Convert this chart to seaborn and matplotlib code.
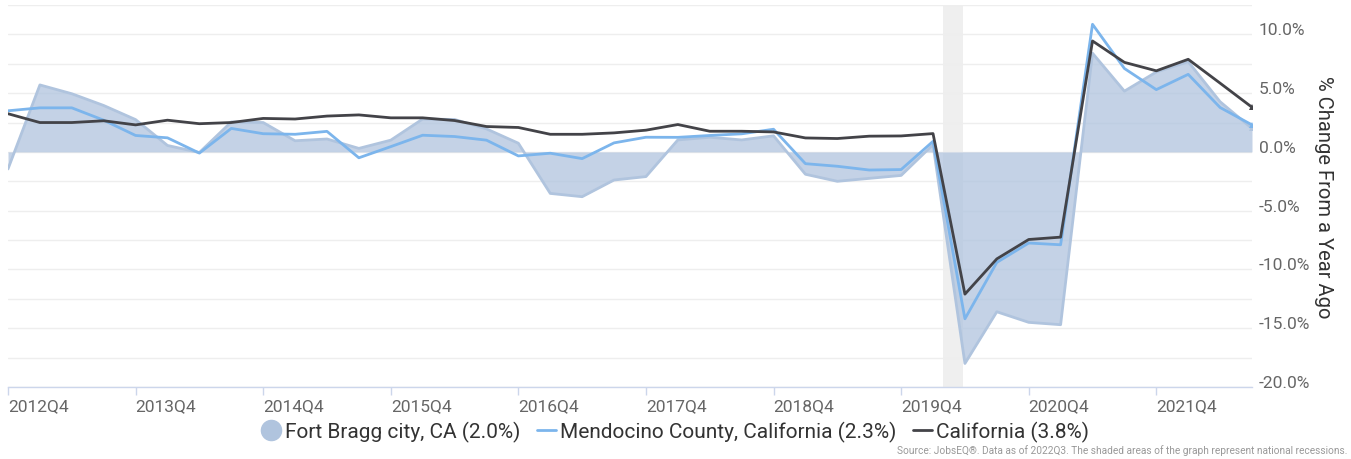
import matplotlib
matplotlib.use("Agg")
import matplotlib.pyplot as plt
import matplotlib.transforms as mtransforms
from matplotlib.lines import Line2D
import seaborn as sns
import pandas as pd
import numpy as np

quarters = ["2012Q4",
            "2013Q1", "2013Q2", "2013Q3", "2013Q4",
            "2014Q1", "2014Q2", "2014Q3", "2014Q4",
            "2015Q1", "2015Q2", "2015Q3", "2015Q4",
            "2016Q1", "2016Q2", "2016Q3", "2016Q4",
            "2017Q1", "2017Q2", "2017Q3", "2017Q4",
            "2018Q1", "2018Q2", "2018Q3", "2018Q4",
            "2019Q1", "2019Q2", "2019Q3", "2019Q4",
            "2020Q1", "2020Q2", "2020Q3", "2020Q4",
            "2021Q1", "2021Q2", "2021Q3", "2021Q4",
            "2022Q1", "2022Q2", "2022Q3"]
tick_labels = ["2012Q4", "2013Q4", "2014Q4", "2015Q4", "2016Q4",
               "2017Q4", "2018Q4", "2019Q4", "2020Q4", "2021Q4"]

fort_bragg = [-1.45, 5.7, 4.95, 3.95, 2.75, 0.55, -0.05, 2.55, 2.5, 0.95,
              1.1, 0.3, 1.0, 2.8, 2.76, 1.96, 0.74, -3.53, -3.81, -2.39,
              -2.1, 1.02, 1.25, 1.02, 1.37, -1.9, -2.5, -2.25, -2.0, 0.62,
              -18.0, -13.6, -14.5, -14.7, 8.4, 5.17, 6.8, 7.68, 4.27, 2.0]
mendocino = [3.5, 3.75, 3.75, 2.7, 1.4, 1.2, -0.1, 2.0, 1.55, 1.5,
             1.75, -0.5, 0.45, 1.42, 1.31, 1.0, -0.34, -0.11, -0.57, 0.77,
             1.25, 1.24, 1.4, 1.54, 1.93, -1.0, -1.22, -1.54, -1.5, 0.9,
             -14.2, -9.4, -7.75, -7.9, 10.86, 7.1, 5.3, 6.6, 3.78, 2.3]
california = [3.25, 2.5, 2.5, 2.65, 2.3, 2.7, 2.4, 2.5, 2.85, 2.8,
              3.05, 3.15, 2.9, 2.9, 2.67, 2.16, 2.08, 1.5, 1.5, 1.62,
              1.85, 2.33, 1.76, 1.76, 1.7, 1.19, 1.14, 1.34, 1.36, 1.56,
              -12.1, -9.1, -7.45, -7.25, 9.44, 7.62, 6.9, 7.88, 5.85, 3.8]

# recession: roughly Feb 2020 - Apr 2020 in quarter-index units
recession = ("2020Q1", "2020Q2")

df = pd.DataFrame({"quarter": quarters, "Fort Bragg": fort_bragg,
                   "Mendocino": mendocino, "California": california})
df["pos"] = np.arange(len(df))

sns.set_theme(style="white")
plt.rcParams["font.family"] = ["Roboto", "DejaVu Sans"]

fig = plt.figure(figsize=(13.51, 4.60), dpi=100)
ax = fig.add_axes([8/1351, 1-388/460, 1244/1351, 382/460])

c_fill = "#b0c4de"
c_blue = "#7cb5ec"
c_dark = "#434348"

r0 = quarters.index(recession[0]) + 0.3
r1 = quarters.index(recession[1]) - 0.05
ax.axvspan(r0, r1, color="#efefef", zorder=0, lw=0)

ax.fill_between(df["pos"], df["Fort Bragg"], 0, color=c_fill, alpha=0.75,
                lw=0, zorder=1)
sns.lineplot(data=df, x="pos", y="Fort Bragg", ax=ax, color=c_fill, lw=2,
             zorder=2, marker="^", markevery=[len(df)-1], markersize=5,
             markeredgewidth=0)
sns.lineplot(data=df, x="pos", y="Mendocino", ax=ax, color=c_blue, lw=2,
             zorder=3, marker="^", markevery=[len(df)-1], markersize=5,
             markeredgewidth=0)
sns.lineplot(data=df, x="pos", y="California", ax=ax, color=c_dark, lw=2,
             zorder=4, marker="^", markevery=[len(df)-1], markersize=5,
             markeredgewidth=0)

ax.set_xlim(0, len(df)-1)
ax.set_ylim(-20, 12.5)

# grid
ax.set_yticks(np.arange(-20, 12.6, 2.5), minor=True)
ax.set_yticks(np.arange(-20, 10.1, 5))
ax.grid(True, which="both", axis="y", color="#eeeeee", lw=1, zorder=0)
ax.grid(False, axis="x")
ax.set_axisbelow(True)

ax.yaxis.tick_right()
ax.set_yticklabels([f"{v:.1f}%" for v in np.arange(-20, 10.1, 5)])
ax.tick_params(axis="y", which="both", length=0, pad=5, labelsize=12.5,
               labelcolor="#666666")
off = mtransforms.ScaledTranslation(0, 6/100, fig.dpi_scale_trans)
for lab in ax.get_yticklabels():
    lab.set_transform(lab.get_transform() + off)

ax.set_xticks([quarters.index(t) for t in tick_labels])
ax.set_xticklabels(tick_labels, ha="left")
ax.tick_params(axis="x", length=6, width=1, color="#ccd6eb", pad=2,
               labelsize=12.5, labelcolor="#666666", bottom=True)

for s in ["top", "left", "right"]:
    ax.spines[s].set_visible(False)
ax.spines["bottom"].set_color("#ccd6eb")
ax.spines["bottom"].set_linewidth(1)

ax.set_xlabel("")
ax.set_ylabel("")
fig.text(1323/1351, 1-197/460, "% Change From a Year Ago", rotation=-90,
         ha="center", va="center", fontsize=14.5, color="#333333")

handles = [
    Line2D([], [], marker="o", ls="none", color=c_fill, markersize=14.5),
    Line2D([], [], color=c_blue, lw=2),
    Line2D([], [], color=c_dark, lw=2),
]
labels = ["Fort Bragg city, CA (2.0%)", "Mendocino County, California (2.3%)",
          "California (3.8%)"]
fig.legend(handles, labels, loc="center", bbox_to_anchor=(0.5, 1-432/460),
           ncol=3, frameon=False, fontsize=15, handlelength=0.9,
           handletextpad=0.2, columnspacing=0.8, labelcolor="#333333")

fig.text(1347/1351, 1-451/460,
         "Source: JobsEQ®. Data as of 2022Q3. The shaded areas of the graph represent national recessions.",
         ha="right", va="center", fontsize=7.3, color="#999999")

fig.savefig("out.png", dpi=100)
